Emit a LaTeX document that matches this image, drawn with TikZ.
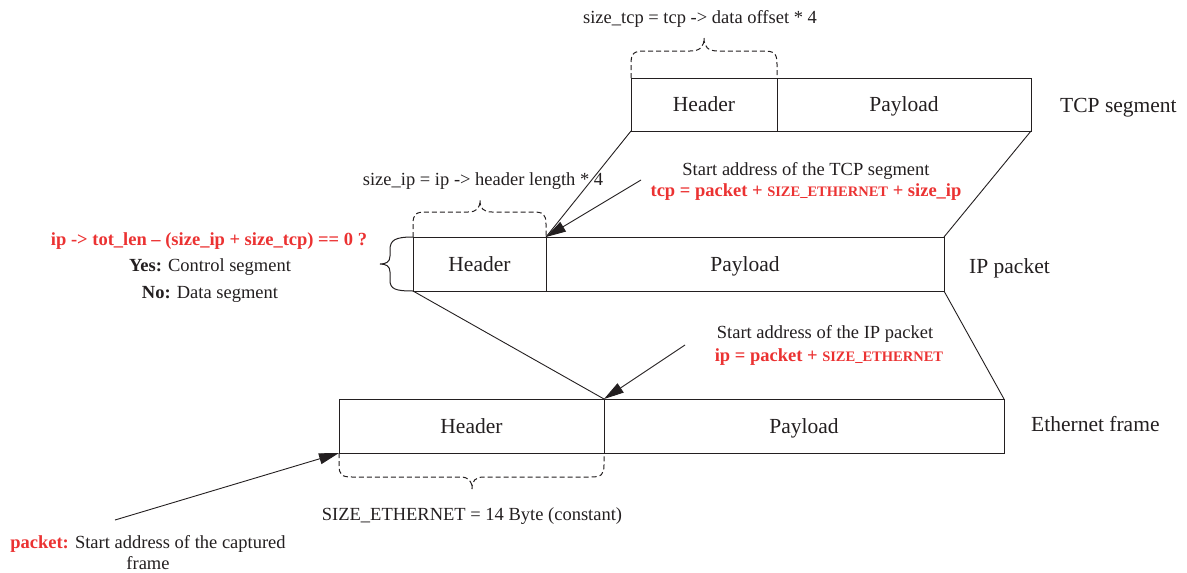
\documentclass[tikz,border=0pt]{standalone}
\usepackage{fontspec}
\setmainfont{Liberation Serif}
\usetikzlibrary{arrows.meta}
\definecolor{txt}{RGB}{35,31,32}
\definecolor{hl}{RGB}{235,50,50}
\newcommand{\annofont}{\fontsize{18.5}{22}\selectfont}
\newcommand{\lblfont}{\fontsize{21.5}{26}\selectfont}
\newcommand{\smc}[1]{{\fontsize{14.5}{17}\selectfont #1}}
\begin{document}
\begin{tikzpicture}[x=1pt,y=-1pt,
  box/.style={draw=txt, line width=1pt, inner sep=0pt, outer sep=0pt, anchor=north west,
              text height=14pt, text depth=0pt, font=\lblfont, text=txt},
  annot/.style={font=\annofont, text=txt, inner sep=0pt, anchor=base},
  hltext/.style={annot, text=hl, font=\annofont\bfseries},
  lbltext/.style={font=\lblfont, text=txt, inner sep=0pt, anchor=base west},
  link/.style={draw=txt, line width=0.9pt},
  arr/.style={link, -{Triangle[length=20pt,width=11pt]}},
  dbrace/.style={draw=txt, line width=1pt, dash pattern=on 5pt off 3pt},
  sbrace/.style={draw=txt, line width=1pt}]
\useasboundingbox (0,0) rectangle (1187,573);

% boxes
\node[box, minimum width=146, minimum height=53] (tcph) at (631,78) {Header};
\node[box, minimum width=254, minimum height=53] (tcpp) at (777,78) {Payload};
\node[box, minimum width=133, minimum height=54] (iph) at (413,237) {Header};
\node[box, minimum width=398, minimum height=54] (ipp) at (546,237) {Payload};
\node[box, minimum width=265, minimum height=54] (ethh) at (339,399) {Header};
\node[box, minimum width=400, minimum height=54] (ethp) at (604,399) {Payload};

% layer labels
\node[lbltext] (tcplbl) at (1060,112) {TCP segment};
\node[lbltext] (iplbl) at (969,273) {IP packet};
\node[lbltext] (ethlbl) at (1031,431) {Ethernet frame};

% trapezoid connectors
\draw[link] (tcph.south west) -- (iph.north east);
\draw[link] (tcpp.south east) -- (ipp.north east);
\draw[link] (iph.south west) -- (ethh.north east);
\draw[link] (ipp.south east) -- (ethp.north east);

% braces
\draw[dbrace] (tcph.north west) -- (631,64) .. controls (631,53) and (634,51) .. (645,51) -- (690,51)
  .. controls (700,51) and (704,47) .. (704,38) .. controls (704,47) and (708,51) .. (718,51)
  -- (763,51) .. controls (774,51) and (777,53) .. (777,64) -- (tcph.north east);
\draw[dbrace] (iph.north west) -- (413,224) .. controls (413,214) and (416,212) .. (426,212) -- (468,212)
  .. controls (477,212) and (480,208) .. (480,200) .. controls (480,208) and (483,212) .. (492,212)
  -- (533,212) .. controls (543,212) and (546,214) .. (546,224) -- (iph.north east);
\draw[dbrace] (ethh.south west) -- (339,465) .. controls (339,475) and (342,477) .. (352,477) -- (460,477)
  .. controls (469,477) and (472,481) .. (472,489) .. controls (472,481) and (475,477) .. (484,477)
  -- (591,477) .. controls (601,477) and (604,475) .. (604,465) -- (ethh.south east);
\draw[sbrace] (iph.north west) .. controls (395,237) and (390,240) .. (390,250) -- (390,256)
  .. controls (390,262) and (386,264) .. (380,264) .. controls (386,264) and (390,266) .. (390,272)
  -- (390,280) .. controls (390,289) and (395,291) .. (iph.south west);

% annotations
\node[annot] (tcpsize) at (700,23) {size\_tcp = tcp -> data offset * 4};
\node[annot] (tcpstart) at (806,175) {Start address of the TCP segment};
\node[hltext] (tcpform) at (806,196) {tcp = packet + \smc{SIZE\_ETHERNET} + size\_ip};
\node[annot] (ipsize) at (483,185) {size\_ip = ip -> header length * 4};
\node[hltext] (cond) at (209,245) {ip -> tot\_len -- (size\_ip + size\_tcp) == 0 ?};
\node[annot] (yes) at (210,271) {\textbf{Yes:} Control segment};
\node[annot] (no) at (210,298) {\textbf{No:} Data segment};
\node[annot] (ipstart) at (825,338) {Start address of the IP packet};
\node[hltext] (ipform) at (829,361) {ip = packet + \smc{SIZE\_ETHERNET}};
\node[annot] (ethsize) at (472,520) {SIZE\_ETHERNET = 14 Byte (constant)};
\node[annot] (pkt1) at (148,548) {\textcolor{hl}{\textbf{packet:}} Start address of the captured};
\node[annot] (pkt2) at (148,569) {frame};

% arrows
\coordinate (tcpsrc) at (641,180);
\coordinate (ipsrc) at (685,345);
\coordinate (pktsrc) at (115,520);
\draw[arr] (tcpsrc) -- (iph.north east);
\draw[arr] (ipsrc) -- (ethh.north east);
\draw[arr] (pktsrc) -- (ethh.south west);
\end{tikzpicture}
\end{document}
